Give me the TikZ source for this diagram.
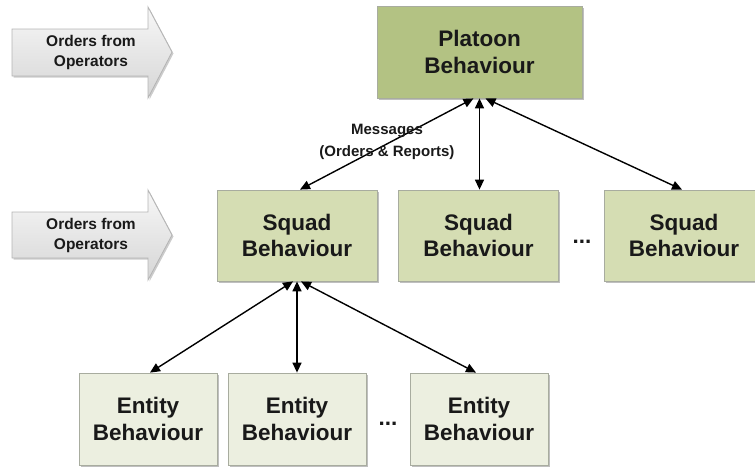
\documentclass[tikz,border=0pt]{standalone}
\usepackage{fontspec}
\setmainfont{Liberation Sans}
\usetikzlibrary{calc,shadows,arrows.meta}

\definecolor{platoonfill}{HTML}{B3C283}
\definecolor{squadfill}{HTML}{D5DDB3}
\definecolor{entityfill}{HTML}{ECEFE0}
\definecolor{boxline}{HTML}{A8AC9F}
\definecolor{ordline}{HTML}{B4B4B4}
\definecolor{ordtop}{HTML}{F7F7F7}
\definecolor{ordbot}{HTML}{D6D6D6}

\tikzset{
  boxbase/.style={draw=boxline, line width=0.8pt, align=center,
    font=\fontsize{22.5}{26.5}\selectfont\bfseries, text=black!90, inner sep=0pt,
    drop shadow={shadow xshift=1.5pt, shadow yshift=-1.5pt, opacity=0.25, fill=black}},
  platoonbox/.style={boxbase, fill=platoonfill, minimum width=205pt, minimum height=92pt},
  squadbox/.style={boxbase, fill=squadfill, minimum width=160pt, minimum height=91pt},
  entitybox/.style={boxbase, fill=entityfill, minimum width=138pt, minimum height=92pt},
  link/.style={line width=1.4pt, {Triangle[length=10pt,width=9pt]}-{Triangle[length=10pt,width=9pt]}},
  ordertext/.style={align=center, font=\fontsize{15.5}{19.5}\selectfont\bfseries, text=black!90},
  msgtext/.style={align=center, font=\fontsize{15}{21.5}\selectfont\bfseries, text=black!90},
  dots/.style={font=\fontsize{22.5}{26}\selectfont\bfseries, text=black!90},
  orderarrow/.style={draw=ordline, line width=0.8pt, top color=ordtop, bottom color=ordbot,
    drop shadow={shadow xshift=1.5pt, shadow yshift=-1.5pt, opacity=0.2, fill=black}}
}

\begin{document}
\begin{tikzpicture}[x=1pt, y=-1pt]
  \useasboundingbox (0,0) rectangle (755,466);
  \clip (0,0) rectangle (755,466);

  % incoming orders (block arrows)
  \path[orderarrow] (12,29) -- (148,29) -- (148,7) -- (172,52) -- (148,98)
        -- (148,76) -- (12,76) -- cycle;
  \node[ordertext] (ord1) at (91,52.5) {Orders from\\Operators};
  \path[orderarrow] (12,212) -- (148,212) -- (148,190) -- (172,235) -- (148,280)
        -- (148,258) -- (12,258) -- cycle;
  \node[ordertext] (ord2) at (91,235.5) {Orders from\\Operators};

  % hierarchy
  \node[platoonbox] (plat) at (479.5,52) {Platoon\\Behaviour};

  \node[squadbox] (sq1) at (297,235.5) {Squad\\Behaviour};
  \node[squadbox] (sq2) at (478.5,235.5) {Squad\\Behaviour};
  \node[squadbox] (sq3) at (684,235.5) {Squad\\Behaviour};
  \node[dots] (sqdots) at (582,242) {...};

  \node[entitybox] (en1) at (148,419) {Entity\\Behaviour};
  \node[entitybox] (en2) at (297,419) {Entity\\Behaviour};
  \node[entitybox] (en3) at (479,419) {Entity\\Behaviour};
  \node[dots] (endots) at (388,424) {...};

  % message links
  \draw[link] ($(plat.south)+(-6,0)$) -- ($(sq1.north)+(3,0)$);
  \draw[link] (plat.south) -- (plat.south |- sq2.north);
  \draw[link] ($(plat.south)+(6,0)$) -- ($(sq3.north)+(-2,0)$);

  \draw[link] ($(sq1.south)+(-4,0)$) -- ($(en1.north)+(2,0)$);
  \draw[link] (sq1.south) -- (en2.north);
  \draw[link] ($(sq1.south)+(4,0)$) -- ($(en3.north)+(-3,0)$);

  \node[msgtext] (msg) at (387,142) {Messages\\(Orders \& Reports)};
\end{tikzpicture}
\end{document}
